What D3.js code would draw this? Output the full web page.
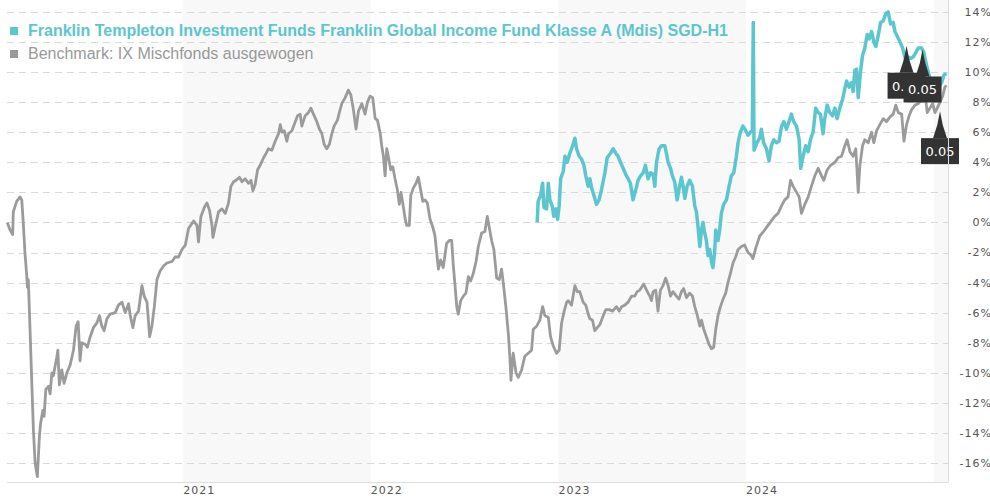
<!DOCTYPE html>
<html>
<head>
<meta charset="utf-8">
<script src="https://cdn.jsdelivr.net/npm/d3@7"></script>
<style>
  html, body { margin: 0; padding: 0; background: #fff; }
  svg { display: block; }
</style>
</head>
<body>
<svg width="990" height="498"></svg>
<script>
// series: time as decimal year, value in %
const benchYears = [
  2020.064, 2020.079, 2020.093, 2020.096, 2020.114, 2020.132, 2020.141, 2020.149, 2020.158, 2020.168,
  2020.171, 2020.176, 2020.185, 2020.194, 2020.203, 2020.212, 2020.224, 2020.235, 2020.242, 2020.253,
  2020.260, 2020.269, 2020.283, 2020.292, 2020.301, 2020.309, 2020.318, 2020.327, 2020.333, 2020.341,
  2020.354, 2020.366, 2020.381, 2020.398, 2020.416, 2020.430, 2020.441, 2020.451, 2020.460, 2020.478,
  2020.490, 2020.505, 2020.522, 2020.540, 2020.554, 2020.567, 2020.579, 2020.594, 2020.611, 2020.638,
  2020.655, 2020.674, 2020.691, 2020.709, 2020.718, 2020.732, 2020.744, 2020.762, 2020.780, 2020.792,
  2020.807, 2020.821, 2020.833, 2020.846, 2020.860, 2020.878, 2020.895, 2020.913, 2020.940, 2020.957,
  2020.975, 2020.993, 2021.011, 2021.028, 2021.055, 2021.073, 2021.081, 2021.094, 2021.112, 2021.126,
  2021.140, 2021.153, 2021.158, 2021.170, 2021.188, 2021.206, 2021.224, 2021.241, 2021.254, 2021.268,
  2021.282, 2021.300, 2021.313, 2021.330, 2021.348, 2021.361, 2021.371, 2021.383, 2021.396, 2021.410,
  2021.428, 2021.442, 2021.454, 2021.472, 2021.490, 2021.508, 2021.517, 2021.526, 2021.538, 2021.552,
  2021.561, 2021.579, 2021.597, 2021.609, 2021.623, 2021.632, 2021.650, 2021.667, 2021.680, 2021.694,
  2021.712, 2021.726, 2021.739, 2021.751, 2021.765, 2021.779, 2021.792, 2021.804, 2021.822, 2021.832,
  2021.845, 2021.863, 2021.880, 2021.893, 2021.907, 2021.921, 2021.934, 2021.952, 2021.969, 2021.982,
  2021.996, 2022.010, 2022.023, 2022.035, 2022.049, 2022.058, 2022.067, 2022.076, 2022.085, 2022.093,
  2022.106, 2022.117, 2022.129, 2022.141, 2022.152, 2022.161, 2022.170, 2022.182, 2022.191, 2022.205,
  2022.213, 2022.227, 2022.241, 2022.253, 2022.262, 2022.277, 2022.289, 2022.301, 2022.316, 2022.330,
  2022.342, 2022.351, 2022.360, 2022.372, 2022.386, 2022.404, 2022.418, 2022.431, 2022.440, 2022.449,
  2022.458, 2022.466, 2022.479, 2022.493, 2022.507, 2022.520, 2022.532, 2022.546, 2022.561, 2022.573,
  2022.591, 2022.608, 2022.621, 2022.631, 2022.644, 2022.656, 2022.671, 2022.685, 2022.697, 2022.706,
  2022.720, 2022.733, 2022.742, 2022.747, 2022.759, 2022.774, 2022.786, 2022.804, 2022.821, 2022.839,
  2022.857, 2022.866, 2022.884, 2022.901, 2022.916, 2022.928, 2022.946, 2022.958, 2022.972, 2022.990,
  2023.004, 2023.017, 2023.029, 2023.044, 2023.052, 2023.070, 2023.088, 2023.100, 2023.114, 2023.132,
  2023.146, 2023.159, 2023.168, 2023.182, 2023.194, 2023.207, 2023.221, 2023.239, 2023.253, 2023.270,
  2023.289, 2023.310, 2023.324, 2023.337, 2023.354, 2023.372, 2023.390, 2023.407, 2023.420, 2023.434,
  2023.455, 2023.470, 2023.487, 2023.496, 2023.505, 2023.519, 2023.531, 2023.544, 2023.558, 2023.572,
  2023.585, 2023.598, 2023.611, 2023.629, 2023.643, 2023.656, 2023.668, 2023.683, 2023.700, 2023.715,
  2023.727, 2023.739, 2023.754, 2023.763, 2023.775, 2023.789, 2023.803, 2023.816, 2023.828, 2023.839,
  2023.851, 2023.864, 2023.878, 2023.892, 2023.904, 2023.917, 2023.931, 2023.945, 2023.958, 2023.976,
  2023.993, 2024.011, 2024.029, 2024.037, 2024.055, 2024.073, 2024.094, 2024.117, 2024.135, 2024.153,
  2024.171, 2024.189, 2024.206, 2024.224, 2024.237, 2024.251, 2024.265, 2024.283, 2024.295, 2024.313,
  2024.331, 2024.348, 2024.366, 2024.384, 2024.402, 2024.414, 2024.432, 2024.450, 2024.473, 2024.490,
  2024.508, 2024.526, 2024.538, 2024.553, 2024.570, 2024.584, 2024.597, 2024.606, 2024.620, 2024.632,
  2024.650, 2024.668, 2024.680, 2024.695, 2024.712, 2024.730, 2024.748, 2024.765, 2024.783, 2024.797,
  2024.810, 2024.828, 2024.840, 2024.854, 2024.868, 2024.881, 2024.899, 2024.916, 2024.934, 2024.952,
  2024.964, 2024.978, 2024.993, 2025.005, 2025.017, 2025.032, 2025.046, 2025.058, 2025.067
];
const benchValues = [
  0.0, -0.5, -0.8, 0.7, 1.4, 1.7, 1.5, 0.0, -2.0, -3.6,
  -4.3, -3.8, -7.1, -10.5, -13.8, -16.0, -16.9, -14.2, -13.3, -12.5,
  -12.9, -11.1, -10.9, -11.4, -10.0, -10.2, -9.6, -9.0, -8.5, -10.8,
  -9.8, -10.7, -10.0, -9.5, -8.5, -6.9, -6.6, -9.2, -8.0, -8.1,
  -8.3, -7.6, -7.0, -6.7, -6.2, -6.9, -7.2, -6.4, -6.1, -6.0,
  -5.5, -5.3, -6.0, -5.4, -6.2, -7.0, -6.2, -5.9, -4.2, -4.9,
  -5.3, -7.6, -6.9, -5.6, -3.8, -3.2, -2.9, -2.7, -2.6, -2.3,
  -2.3, -1.8, -1.5, -0.4, 0.1, -0.2, -1.3, 0.4, 1.0, 1.3,
  0.8, -0.2, -1.0, -0.3, 0.7, 0.9, 0.6, 1.3, 2.4, 2.7,
  2.8, 3.0, 2.7, 2.9, 2.6, 2.8, 2.1, 2.5, 3.5, 3.8,
  4.3, 4.6, 4.9, 4.8, 5.4, 5.9, 6.5, 6.0, 6.1, 5.4,
  5.9, 6.1, 6.7, 7.1, 7.2, 6.4, 7.1, 7.3, 7.6, 7.2,
  6.7, 6.2, 5.9, 5.2, 4.9, 5.2, 5.9, 6.4, 6.8, 7.3,
  7.9, 8.3, 8.8, 8.5, 7.5, 6.2, 7.4, 7.9, 7.2, 8.0,
  8.4, 8.3, 6.9, 6.8, 6.0, 5.1, 4.4, 3.1, 4.9, 4.4,
  3.5, 3.7, 2.9, 2.2, 1.2, 2.0, 1.3, 0.3, -0.2, -0.2,
  1.8, 2.3, 2.6, 3.0, 2.4, 1.4, 1.5, 1.3, 0.2, -0.3,
  -0.9, -2.0, -3.1, -2.5, -3.0, -1.4, -1.2, -1.2, -2.9, -4.2,
  -5.6, -6.1, -5.2, -4.9, -4.7, -3.6, -3.9, -3.4, -2.6, -1.6,
  -0.7, -0.6, 0.4, -0.3, -1.2, -1.8, -3.7, -3.8, -3.1, -4.0,
  -5.6, -7.4, -9.1, -10.5, -8.7, -10.0, -10.3, -9.8, -8.9, -8.7,
  -8.5, -7.1, -6.9, -6.5, -5.6, -6.2, -6.3, -7.6, -8.2, -8.7,
  -8.5, -6.7, -6.0, -5.3, -5.2, -5.5, -4.2, -4.6, -4.6, -5.3,
  -5.5, -6.1, -6.4, -6.5, -7.2, -7.0, -6.8, -6.2, -5.8, -5.8,
  -5.9, -5.6, -5.9, -5.6, -5.5, -5.3, -4.9, -4.9, -4.6, -4.5,
  -4.1, -4.5, -4.9, -5.2, -4.6, -4.5, -5.9, -4.5, -4.2, -3.7,
  -4.2, -4.9, -4.6, -4.9, -5.1, -4.6, -4.4, -5.0, -4.7, -4.9,
  -5.6, -6.1, -6.9, -6.5, -7.1, -7.6, -8.1, -8.4, -8.3, -7.1,
  -6.2, -5.6, -5.1, -4.7, -4.0, -3.4, -2.7, -2.3, -1.8, -1.6,
  -1.5, -2.0, -2.2, -2.4, -1.6, -0.9, -0.6, -0.2, 0.1, 0.4,
  0.6, 1.1, 1.5, 1.7, 2.8, 2.4, 2.1, 1.7, 0.6, 1.2,
  1.7, 2.4, 3.1, 3.6, 3.1, 2.8, 3.5, 3.8, 4.0, 4.3,
  4.4, 5.1, 5.5, 4.7, 4.4, 4.9, 2.0, 3.8, 5.1, 5.5,
  5.3, 6.0, 5.3, 6.1, 6.5, 6.9, 6.7, 7.0, 7.2, 7.8,
  7.3, 7.2, 5.4, 6.5, 7.1, 7.5, 7.8, 7.9, 8.2, 8.6,
  7.3, 7.6, 7.9, 7.3, 7.6, 8.0, 8.4, 9.0, 9.1
];

const fundYears = [
  2022.887, 2022.892, 2022.905, 2022.916, 2022.923, 2022.937, 2022.946, 2022.955, 2022.967, 2022.976,
  2022.987, 2022.996, 2023.004, 2023.012, 2023.026, 2023.035, 2023.047, 2023.061, 2023.076, 2023.088,
  2023.097, 2023.111, 2023.124, 2023.136, 2023.146, 2023.159, 2023.168, 2023.177, 2023.189, 2023.203,
  2023.217, 2023.230, 2023.248, 2023.260, 2023.278, 2023.292, 2023.306, 2023.318, 2023.331, 2023.345,
  2023.359, 2023.372, 2023.384, 2023.398, 2023.413, 2023.425, 2023.438, 2023.452, 2023.464, 2023.478,
  2023.491, 2023.505, 2023.514, 2023.523, 2023.537, 2023.550, 2023.567, 2023.576, 2023.585, 2023.598,
  2023.608, 2023.620, 2023.633, 2023.643, 2023.656, 2023.665, 2023.674, 2023.686, 2023.700, 2023.715,
  2023.727, 2023.736, 2023.744, 2023.754, 2023.763, 2023.771, 2023.780, 2023.789, 2023.798, 2023.807,
  2023.816, 2023.824, 2023.833, 2023.839, 2023.851, 2023.860, 2023.869, 2023.881, 2023.896, 2023.910,
  2023.922, 2023.935, 2023.949, 2023.958, 2023.970, 2023.984, 2023.999, 2024.011, 2024.024, 2024.034,
  2024.039, 2024.043, 2024.059, 2024.073, 2024.082, 2024.094, 2024.109, 2024.123, 2024.135, 2024.148,
  2024.162, 2024.176, 2024.189, 2024.201, 2024.215, 2024.229, 2024.242, 2024.254, 2024.269, 2024.283,
  2024.291, 2024.304, 2024.318, 2024.331, 2024.343, 2024.357, 2024.371, 2024.384, 2024.396, 2024.410,
  2024.419, 2024.432, 2024.446, 2024.460, 2024.473, 2024.485, 2024.499, 2024.514, 2024.526, 2024.535,
  2024.549, 2024.561, 2024.570, 2024.579, 2024.588, 2024.597, 2024.609, 2024.620, 2024.632, 2024.645,
  2024.655, 2024.668, 2024.680, 2024.691, 2024.703, 2024.716, 2024.730, 2024.744, 2024.756, 2024.769,
  2024.783, 2024.792, 2024.804, 2024.819, 2024.833, 2024.845, 2024.854, 2024.863, 2024.876, 2024.889,
  2024.904, 2024.916, 2024.934, 2024.946, 2024.961, 2024.978, 2024.999, 2025.021, 2025.041, 2025.053,
  2025.067
];
const fundValues = [
  0.0, 1.4, 1.8, 2.6, 1.0, 0.9, 2.6, 1.5, 1.1, 0.4,
  0.9, 0.2, 1.1, 2.9, 3.4, 4.4, 4.0, 4.6, 5.1, 5.6,
  4.9, 4.4, 4.2, 3.8, 3.1, 2.4, 2.9, 2.3, 1.8, 1.2,
  1.5, 2.2, 3.3, 4.3, 4.6, 4.9, 4.6, 4.4, 4.0, 3.6,
  3.2, 2.9, 2.6, 1.5, 2.2, 2.8, 3.1, 3.3, 3.8, 2.9,
  3.3, 3.2, 2.4, 4.0, 4.9, 5.1, 5.1, 4.6, 4.0, 3.6,
  3.1, 2.7, 1.5, 2.2, 3.0, 2.4, 1.6, 2.4, 2.8, 2.4,
  1.1, 0.7, -0.2, -1.6, -0.5, 0.0, -0.7, -1.2, -2.2, -1.8,
  -2.6, -3.0, -2.0, -0.5, -1.2, -0.5, 0.6, 1.2, 1.5, 2.4,
  3.1, 3.3, 4.4, 5.3, 6.0, 6.4, 6.1, 5.8, 6.0, 6.1,
  13.3, 4.8, 5.3, 5.6, 6.2, 5.3, 4.9, 4.1, 5.1, 5.5,
  5.3, 5.4, 6.4, 6.7, 6.2, 6.7, 7.2, 6.7, 6.4, 5.5,
  3.6, 4.4, 5.1, 4.7, 5.5, 6.0, 7.6, 7.3, 7.2, 5.9,
  6.9, 7.8, 7.3, 7.1, 7.6, 6.9, 7.6, 8.2, 8.9, 9.4,
  9.0, 9.3, 8.7, 10.1, 10.2, 8.3, 10.0, 11.1, 11.6, 12.5,
  12.2, 12.7, 12.0, 11.7, 12.4, 13.3, 13.4, 13.9, 14.0, 13.2,
  13.3, 12.7, 12.4, 12.0, 11.6, 11.0, 10.4, 11.0, 10.9, 11.0,
  11.3, 11.6, 11.6, 11.3, 10.4, 9.6, 9.2, 9.0, 9.3, 9.8,
  9.9
];

// distribution markers
const divYears = [2024.854, 2024.939, 2025.032];
const divValues = [11.75, 11.5, 7.4];
const divLabels = ["0.05", "0.05", "0.05"];

const yearTicks = [2021, 2022, 2023, 2024];
const bandYears = [2021, 2023, 2025];
const yTicks = [-16, -14, -12, -10, -8, -6, -4, -2, 0, 2, 4, 6, 8, 10, 12, 14];

const fundName = "Franklin Templeton Investment Funds Franklin Global Income Fund Klasse A (Mdis) SGD-H1";
const benchName = "Benchmark: IX Mischfonds ausgewogen";

const teal = "#5cc6ce";
const grey = "#9b9b9b";

function toDate(v) {
  const yr = Math.floor(v);
  const s = Date.UTC(yr, 0, 1), e = Date.UTC(yr + 1, 0, 1);
  return new Date(s + (v - yr) * (e - s));
}

const svg = d3.select("svg");
const plotLeft = 7, plotRight = 948, plotTop = 0, plotBottom = 482;

const x = d3.scaleUtc()
  .domain([toDate(2020.0626), toDate(2025.0746)])
  .range([plotLeft, plotRight]);
const y = d3.scaleLinear().domain([-17.26, 14.79]).range([plotBottom, plotTop]);

// year bands
svg.append("g").selectAll("rect")
  .data(bandYears)
  .join("rect")
  .attr("x", d => x(toDate(d)))
  .attr("y", plotTop)
  .attr("width", d => Math.min(plotRight, x(toDate(d + 1))) - x(toDate(d)))
  .attr("height", plotBottom - plotTop)
  .attr("fill", "#f8f8f8");

// grid
svg.append("g").selectAll("line")
  .data(yTicks)
  .join("line")
  .attr("x1", plotLeft).attr("x2", plotRight)
  .attr("y1", d => Math.round(y(d)) + 0.5).attr("y2", d => Math.round(y(d)) + 0.5)
  .attr("stroke", "#d9d9d9")
  .attr("stroke-dasharray", "7,5");

// right axis labels
svg.append("g").selectAll("text")
  .data(yTicks)
  .join("text")
  .attr("x", 992)
  .attr("y", d => y(d))
  .attr("dy", "0.36em")
  .attr("text-anchor", "end")
  .attr("font-family", "DejaVu Sans, Verdana, sans-serif")
  .attr("font-size", 11)
  .attr("letter-spacing", 1)
  .attr("fill", "#555")
  .text(d => d + "%");

// year labels
svg.append("g").selectAll("text")
  .data(yearTicks)
  .join("text")
  .attr("x", d => x(toDate(d)))
  .attr("y", 494)
  .attr("font-family", "DejaVu Sans, Verdana, sans-serif")
  .attr("font-size", 11)
  .attr("letter-spacing", 1)
  .attr("fill", "#555")
  .text(d => d);

const line = d3.line()
  .x(d => x(toDate(d[0])))
  .y(d => y(d[1]));

svg.append("path")
  .datum(d3.zip(benchYears, benchValues))
  .attr("d", line)
  .attr("fill", "none")
  .attr("stroke", grey)
  .attr("stroke-width", 2.8)
  .attr("stroke-linejoin", "round");

svg.append("path")
  .datum(d3.zip(fundYears, fundValues))
  .attr("d", line)
  .attr("fill", "none")
  .attr("stroke", teal)
  .attr("stroke-width", 3.5)
  .attr("stroke-linejoin", "round");

// distribution flags
const flags = svg.append("g").selectAll("g")
  .data(d3.zip(divYears, divValues, divLabels))
  .join("g")
  .attr("transform", d => `translate(${x(toDate(d[0]))},${y(d[1])})`);

flags.append("path")
  .attr("d", "M-7,27 Q-2,14 0,0 Q2,14 7,27 Z")
  .attr("fill", "#333");
flags.append("rect")
  .attr("x", -19).attr("y", 27)
  .attr("width", 38).attr("height", 26)
  .attr("fill", "#333");
flags.append("text")
  .attr("x", 0).attr("y", 45)
  .attr("text-anchor", "middle")
  .attr("font-family", "DejaVu Sans, Verdana, sans-serif")
  .attr("font-size", 13)
  .attr("fill", "#fff")
  .text(d => d[2]);

// frame
svg.append("line")
  .attr("x1", plotLeft).attr("x2", plotRight + 0.5)
  .attr("y1", plotBottom + 0.5).attr("y2", plotBottom + 0.5)
  .attr("stroke", "#ddd");
svg.append("line")
  .attr("x1", plotRight + 0.5).attr("x2", plotRight + 0.5)
  .attr("y1", plotTop).attr("y2", plotBottom)
  .attr("stroke", "#ddd");

// legend
const legend = svg.append("g").attr("font-family", "Liberation Sans, Arial, sans-serif").attr("font-size", 16);
legend.append("rect").attr("x", 10).attr("y", 27).attr("width", 8).attr("height", 8).attr("fill", teal);
legend.append("text").attr("x", 28).attr("y", 35.5)
  .attr("font-weight", "bold").attr("fill", teal).text(fundName);
legend.append("rect").attr("x", 10).attr("y", 50).attr("width", 8).attr("height", 8).attr("fill", "#999");
legend.append("text").attr("x", 28).attr("y", 58.5)
  .attr("fill", "#999").text(benchName);
</script>
</body>
</html>
